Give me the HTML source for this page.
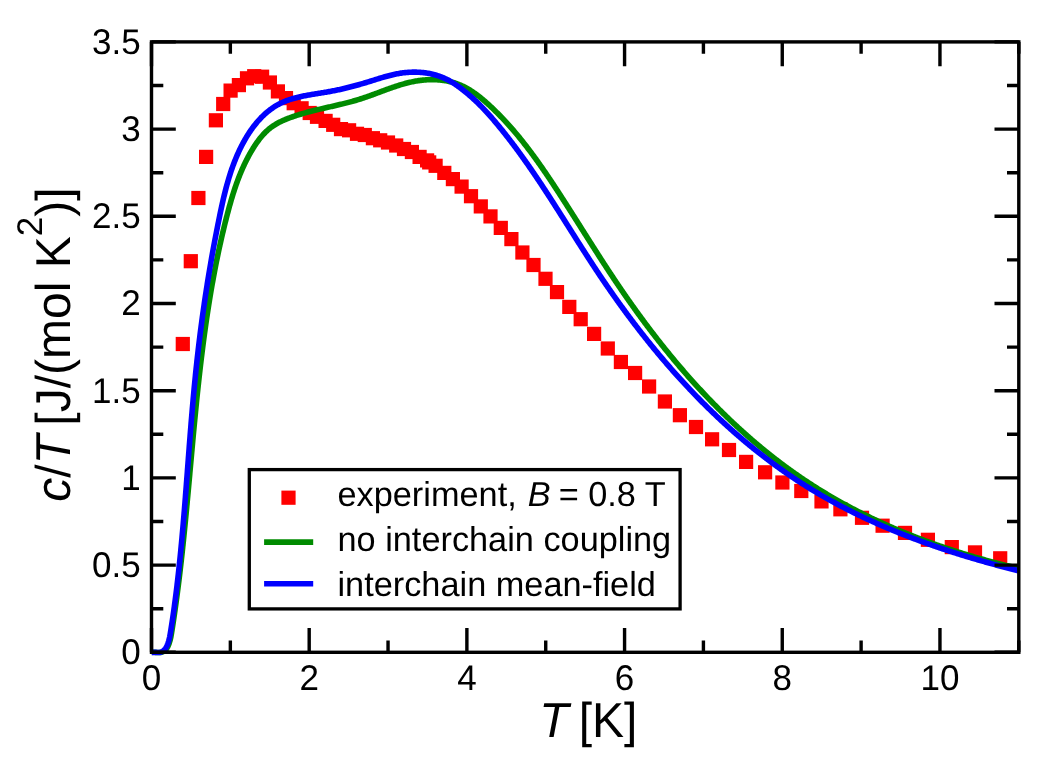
<!DOCTYPE html>
<html><head><meta charset="utf-8"><style>
html,body{margin:0;padding:0;background:#fff;width:1058px;height:768px;overflow:hidden;font-family:"Liberation Sans",sans-serif;}
svg{display:block;will-change:transform;}
</style></head><body>
<svg width="1058" height="768" viewBox="0 0 1058 768">
<rect x="0" y="0" width="1058" height="768" fill="#fff"/>
<defs><clipPath id="c"><rect x="151.5" y="21.9" width="867.3" height="650.4"/></clipPath></defs>
<g fill="#ff0000">
<rect x="175.70" y="336.90" width="14.2" height="14.2"/>
<rect x="183.70" y="254.10" width="14.2" height="14.2"/>
<rect x="191.30" y="190.90" width="14.2" height="14.2"/>
<rect x="199.00" y="149.80" width="14.2" height="14.2"/>
<rect x="208.80" y="113.20" width="14.2" height="14.2"/>
<rect x="216.10" y="96.90" width="14.2" height="14.2"/>
<rect x="223.50" y="83.50" width="14.2" height="14.2"/>
<rect x="231.80" y="78.00" width="14.2" height="14.2"/>
<rect x="239.90" y="71.20" width="14.2" height="14.2"/>
<rect x="247.10" y="69.10" width="14.2" height="14.2"/>
<rect x="255.00" y="69.60" width="14.2" height="14.2"/>
<rect x="262.80" y="75.40" width="14.2" height="14.2"/>
<rect x="270.80" y="84.30" width="14.2" height="14.2"/>
<rect x="278.90" y="91.00" width="14.2" height="14.2"/>
<rect x="286.60" y="96.10" width="14.2" height="14.2"/>
<rect x="294.50" y="101.20" width="14.2" height="14.2"/>
<rect x="302.60" y="105.90" width="14.2" height="14.2"/>
<rect x="309.90" y="109.70" width="14.2" height="14.2"/>
<rect x="318.50" y="113.80" width="14.2" height="14.2"/>
<rect x="326.10" y="117.70" width="14.2" height="14.2"/>
<rect x="333.90" y="122.00" width="14.2" height="14.2"/>
<rect x="342.00" y="123.20" width="14.2" height="14.2"/>
<rect x="349.90" y="126.70" width="14.2" height="14.2"/>
<rect x="357.70" y="127.90" width="14.2" height="14.2"/>
<rect x="365.80" y="131.10" width="14.2" height="14.2"/>
<rect x="373.10" y="133.20" width="14.2" height="14.2"/>
<rect x="380.90" y="135.40" width="14.2" height="14.2"/>
<rect x="389.10" y="138.40" width="14.2" height="14.2"/>
<rect x="396.90" y="141.90" width="14.2" height="14.2"/>
<rect x="404.80" y="144.90" width="14.2" height="14.2"/>
<rect x="412.50" y="149.80" width="14.2" height="14.2"/>
<rect x="420.00" y="153.30" width="14.2" height="14.2"/>
<rect x="422.10" y="155.30" width="14.2" height="14.2"/>
<rect x="428.50" y="158.70" width="14.2" height="14.2"/>
<rect x="437.20" y="165.80" width="14.2" height="14.2"/>
<rect x="445.80" y="172.00" width="14.2" height="14.2"/>
<rect x="454.50" y="179.50" width="14.2" height="14.2"/>
<rect x="463.90" y="189.10" width="14.2" height="14.2"/>
<rect x="473.70" y="199.30" width="14.2" height="14.2"/>
<rect x="483.40" y="209.30" width="14.2" height="14.2"/>
<rect x="493.70" y="220.80" width="14.2" height="14.2"/>
<rect x="504.30" y="232.00" width="14.2" height="14.2"/>
<rect x="515.30" y="245.40" width="14.2" height="14.2"/>
<rect x="526.40" y="257.90" width="14.2" height="14.2"/>
<rect x="538.40" y="271.70" width="14.2" height="14.2"/>
<rect x="549.90" y="285.00" width="14.2" height="14.2"/>
<rect x="562.20" y="299.80" width="14.2" height="14.2"/>
<rect x="573.60" y="312.10" width="14.2" height="14.2"/>
<rect x="587.00" y="326.80" width="14.2" height="14.2"/>
<rect x="600.70" y="341.40" width="14.2" height="14.2"/>
<rect x="613.80" y="354.90" width="14.2" height="14.2"/>
<rect x="628.00" y="365.90" width="14.2" height="14.2"/>
<rect x="642.00" y="379.40" width="14.2" height="14.2"/>
<rect x="657.80" y="394.40" width="14.2" height="14.2"/>
<rect x="672.80" y="408.10" width="14.2" height="14.2"/>
<rect x="688.90" y="419.90" width="14.2" height="14.2"/>
<rect x="705.00" y="432.20" width="14.2" height="14.2"/>
<rect x="721.90" y="442.90" width="14.2" height="14.2"/>
<rect x="739.00" y="454.80" width="14.2" height="14.2"/>
<rect x="758.00" y="465.20" width="14.2" height="14.2"/>
<rect x="775.30" y="475.40" width="14.2" height="14.2"/>
<rect x="794.20" y="483.90" width="14.2" height="14.2"/>
<rect x="814.40" y="494.30" width="14.2" height="14.2"/>
<rect x="833.30" y="502.20" width="14.2" height="14.2"/>
<rect x="854.90" y="510.70" width="14.2" height="14.2"/>
<rect x="875.50" y="518.60" width="14.2" height="14.2"/>
<rect x="897.90" y="525.80" width="14.2" height="14.2"/>
<rect x="920.80" y="532.70" width="14.2" height="14.2"/>
<rect x="944.70" y="540.00" width="14.2" height="14.2"/>
<rect x="967.90" y="545.30" width="14.2" height="14.2"/>
<rect x="993.10" y="551.20" width="14.2" height="14.2"/>
</g>
<g fill="none" stroke-width="5.6" stroke-linejoin="round" clip-path="url(#c)">
<path stroke="#008b00" d="M151.51,652.41 L152.49,652.32 L153.49,652.29 L154.50,652.32 L155.52,652.37 L156.55,652.44 L157.58,652.50 L158.61,652.53 L159.63,652.51 L160.64,652.42 L161.63,652.23 L162.57,651.93 L163.46,651.51 L164.30,651.00 L165.08,650.39 L165.79,649.69 L166.42,648.91 L166.99,648.08 L167.50,647.19 L167.95,646.27 L168.37,645.32 L168.75,644.37 L169.11,643.41 L169.43,642.45 L169.73,641.48 L170.01,640.51 L170.26,639.53 L170.49,638.55 L170.71,637.57 L170.91,636.58 L171.10,635.59 L171.28,634.60 L171.45,633.61 L171.61,632.61 L171.77,631.62 L171.93,630.62 L172.09,629.63 L172.25,628.63 L172.40,627.64 L172.56,626.64 L172.71,625.65 L172.86,624.65 L173.02,623.65 L173.17,622.66 L173.32,621.66 L173.47,620.66 L173.62,619.67 L173.77,618.67 L173.92,617.67 L174.06,616.68 L174.21,615.68 L174.36,614.68 L174.50,613.68 L174.64,612.69 L174.79,611.69 L174.93,610.69 L175.07,609.69 L175.21,608.70 L175.35,607.70 L175.49,606.70 L175.63,605.70 L175.77,604.70 L175.91,603.70 L176.05,602.70 L176.18,601.70 L176.32,600.71 L176.45,599.71 L176.59,598.71 L176.72,597.71 L176.86,596.71 L176.99,595.71 L177.12,594.71 L177.25,593.71 L177.38,592.71 L177.51,591.71 L177.64,590.71 L177.77,589.71 L177.90,588.71 L178.02,587.71 L178.15,586.71 L178.28,585.70 L178.40,584.70 L178.53,583.70 L178.65,582.70 L178.78,581.70 L178.90,580.70 L179.02,579.70 L179.14,578.70 L179.27,577.69 L179.39,576.69 L179.51,575.69 L179.63,574.69 L179.75,573.69 L179.87,572.68 L179.98,571.68 L180.10,570.68 L180.22,569.68 L180.34,568.67 L180.45,567.67 L180.57,566.67 L180.68,565.67 L180.80,564.66 L180.91,563.66 L181.03,562.66 L181.14,561.65 L181.25,560.65 L181.36,559.65 L181.48,558.64 L181.59,557.64 L181.70,556.64 L181.81,555.63 L181.92,554.63 L182.03,553.62 L182.14,552.62 L182.25,551.62 L182.35,550.61 L182.46,549.61 L182.57,548.60 L182.68,547.60 L182.78,546.59 L182.89,545.59 L183.00,544.59 L183.10,543.58 L183.21,542.58 L183.31,541.57 L183.42,540.57 L183.52,539.56 L183.62,538.56 L183.73,537.55 L183.83,536.55 L183.93,535.54 L184.03,534.54 L184.14,533.53 L184.24,532.52 L184.34,531.52 L184.44,530.51 L184.54,529.51 L184.64,528.50 L184.74,527.50 L184.84,526.49 L184.94,525.49 L185.04,524.48 L185.14,523.47 L185.24,522.47 L185.34,521.46 L185.43,520.45 L185.53,519.45 L185.63,518.44 L185.73,517.44 L185.82,516.43 L185.92,515.42 L186.02,514.42 L186.11,513.41 L186.21,512.40 L186.30,511.40 L186.40,510.39 L186.50,509.38 L186.59,508.38 L186.69,507.37 L186.78,506.36 L186.87,505.36 L186.97,504.35 L187.06,503.34 L187.16,502.34 L187.25,501.33 L187.35,500.32 L187.44,499.31 L187.53,498.31 L187.63,497.30 L187.72,496.29 L187.81,495.29 L187.90,494.28 L188.00,493.27 L188.09,492.26 L188.18,491.26 L188.27,490.25 L188.37,489.24 L188.46,488.23 L188.55,487.23 L188.64,486.22 L188.73,485.21 L188.83,484.20 L188.92,483.20 L189.01,482.19 L189.10,481.18 L189.19,480.17 L189.28,479.17 L189.37,478.16 L189.47,477.15 L189.56,476.14 L189.65,475.14 L189.74,474.13 L189.83,473.12 L189.92,472.11 L190.01,471.10 L190.10,470.10 L190.19,469.09 L190.29,468.08 L190.38,467.07 L190.47,466.06 L190.56,465.06 L190.65,464.05 L190.74,463.04 L190.83,462.03 L190.92,461.03 L191.01,460.02 L191.11,459.01 L191.20,458.00 L191.29,456.99 L191.38,455.99 L191.47,454.98 L191.56,453.97 L191.65,452.96 L191.75,451.95 L191.84,450.95 L191.93,449.94 L192.02,448.93 L192.11,447.92 L192.21,446.91 L192.30,445.91 L192.39,444.90 L192.48,443.89 L192.57,442.88 L192.67,441.87 L192.76,440.87 L192.85,439.86 L192.95,438.85 L193.04,437.84 L193.13,436.84 L193.23,435.83 L193.32,434.82 L193.41,433.81 L193.51,432.80 L193.60,431.80 L193.70,430.79 L193.79,429.78 L193.89,428.77 L193.98,427.77 L194.08,426.76 L194.17,425.75 L194.27,424.74 L194.36,423.74 L194.46,422.73 L194.56,421.72 L194.65,420.71 L194.75,419.71 L194.85,418.70 L194.94,417.69 L195.04,416.68 L195.14,415.68 L195.24,414.67 L195.34,413.66 L195.43,412.65 L195.53,411.65 L195.63,410.64 L195.73,409.63 L195.83,408.63 L195.93,407.62 L196.03,406.61 L196.13,405.61 L196.23,404.60 L196.34,403.59 L196.44,402.58 L196.54,401.58 L196.64,400.57 L196.74,399.56 L196.85,398.56 L196.95,397.55 L197.05,396.54 L197.16,395.54 L197.26,394.53 L197.37,393.53 L197.47,392.52 L197.58,391.51 L197.69,390.51 L197.79,389.50 L197.90,388.49 L198.01,387.49 L198.11,386.48 L198.22,385.48 L198.33,384.47 L198.44,383.46 L198.55,382.46 L198.66,381.45 L198.77,380.45 L198.88,379.44 L198.99,378.44 L199.10,377.43 L199.21,376.42 L199.33,375.42 L199.44,374.41 L199.55,373.41 L199.67,372.40 L199.78,371.40 L199.89,370.39 L200.01,369.39 L200.13,368.38 L200.24,367.38 L200.36,366.37 L200.48,365.37 L200.59,364.36 L200.71,363.36 L200.83,362.36 L200.95,361.35 L201.07,360.35 L201.19,359.34 L201.31,358.34 L201.43,357.33 L201.56,356.33 L201.68,355.33 L201.80,354.32 L201.93,353.32 L202.05,352.32 L202.18,351.31 L202.30,350.31 L202.43,349.31 L202.56,348.30 L202.68,347.30 L202.81,346.30 L202.94,345.29 L203.07,344.29 L203.20,343.29 L203.33,342.29 L203.46,341.28 L203.59,340.28 L203.73,339.28 L203.86,338.28 L203.99,337.27 L204.13,336.27 L204.26,335.27 L204.40,334.27 L204.53,333.27 L204.67,332.27 L204.81,331.26 L204.95,330.26 L205.09,329.26 L205.23,328.26 L205.37,327.26 L205.51,326.26 L205.65,325.26 L205.79,324.26 L205.94,323.26 L206.08,322.26 L206.23,321.26 L206.37,320.26 L206.52,319.26 L206.67,318.26 L206.81,317.26 L206.96,316.26 L207.11,315.26 L207.26,314.26 L207.41,313.26 L207.57,312.26 L207.72,311.27 L207.87,310.27 L208.03,309.27 L208.18,308.27 L208.34,307.27 L208.49,306.28 L208.65,305.28 L208.81,304.28 L208.97,303.28 L209.13,302.29 L209.29,301.29 L209.45,300.29 L209.61,299.30 L209.78,298.30 L209.94,297.30 L210.11,296.31 L210.27,295.31 L210.44,294.32 L210.61,293.32 L210.77,292.32 L210.94,291.33 L211.11,290.33 L211.28,289.34 L211.46,288.34 L211.63,287.35 L211.80,286.36 L211.98,285.36 L212.15,284.37 L212.33,283.37 L212.51,282.38 L212.69,281.39 L212.87,280.39 L213.05,279.40 L213.23,278.41 L213.41,277.42 L213.59,276.42 L213.78,275.43 L213.96,274.44 L214.15,273.45 L214.34,272.46 L214.52,271.46 L214.71,270.47 L214.90,269.48 L215.09,268.49 L215.29,267.50 L215.48,266.51 L215.67,265.52 L215.87,264.53 L216.06,263.54 L216.26,262.55 L216.46,261.56 L216.66,260.57 L216.86,259.59 L217.06,258.60 L217.26,257.61 L217.47,256.62 L217.67,255.63 L217.88,254.65 L218.08,253.66 L218.29,252.67 L218.50,251.68 L218.71,250.70 L218.92,249.71 L219.13,248.72 L219.35,247.74 L219.56,246.75 L219.78,245.77 L219.99,244.78 L220.21,243.80 L220.43,242.81 L220.65,241.83 L220.87,240.84 L221.09,239.86 L221.31,238.88 L221.54,237.89 L221.76,236.91 L221.99,235.93 L222.22,234.94 L222.45,233.96 L222.68,232.98 L222.91,232.00 L223.14,231.02 L223.38,230.04 L223.61,229.05 L223.85,228.07 L224.09,227.09 L224.32,226.11 L224.56,225.13 L224.81,224.15 L225.05,223.17 L225.29,222.19 L225.54,221.22 L225.78,220.24 L226.03,219.26 L226.28,218.28 L226.53,217.30 L226.78,216.33 L227.03,215.35 L227.29,214.37 L227.54,213.39 L227.80,212.42 L228.06,211.44 L228.32,210.47 L228.58,209.49 L228.84,208.52 L229.11,207.55 L229.37,206.57 L229.64,205.60 L229.91,204.63 L230.19,203.66 L230.46,202.69 L230.74,201.72 L231.02,200.75 L231.31,199.78 L231.59,198.81 L231.88,197.85 L232.17,196.88 L232.46,195.92 L232.76,194.95 L233.06,193.99 L233.36,193.03 L233.67,192.07 L233.98,191.11 L234.29,190.15 L234.60,189.19 L234.92,188.24 L235.25,187.28 L235.57,186.33 L235.90,185.38 L236.23,184.43 L236.57,183.48 L236.91,182.53 L237.25,181.58 L237.60,180.64 L237.95,179.69 L238.31,178.75 L238.67,177.81 L239.04,176.87 L239.40,175.93 L239.78,175.00 L240.16,174.06 L240.54,173.13 L240.93,172.20 L241.32,171.27 L241.71,170.34 L242.11,169.42 L242.52,168.49 L242.93,167.57 L243.35,166.65 L243.77,165.73 L244.20,164.82 L244.63,163.90 L245.07,162.99 L245.51,162.08 L245.96,161.18 L246.41,160.27 L246.87,159.37 L247.33,158.47 L247.81,157.57 L248.28,156.67 L248.76,155.77 L249.25,154.88 L249.75,153.99 L250.25,153.11 L250.76,152.22 L251.27,151.34 L251.79,150.46 L252.32,149.58 L252.85,148.71 L253.39,147.83 L253.94,146.97 L254.49,146.10 L255.05,145.24 L255.62,144.39 L256.20,143.54 L256.78,142.70 L257.37,141.86 L257.97,141.04 L258.58,140.22 L259.20,139.40 L259.83,138.60 L260.46,137.80 L261.11,137.02 L261.76,136.24 L262.42,135.47 L263.09,134.72 L263.78,133.98 L264.47,133.25 L265.17,132.53 L265.89,131.82 L266.61,131.13 L267.34,130.45 L268.09,129.78 L268.85,129.13 L269.61,128.50 L270.39,127.88 L271.19,127.28 L271.99,126.69 L272.80,126.12 L273.63,125.57 L274.47,125.03 L275.31,124.51 L276.17,124.00 L277.04,123.51 L277.91,123.02 L278.79,122.56 L279.68,122.10 L280.58,121.66 L281.49,121.23 L282.40,120.81 L283.32,120.40 L284.24,119.99 L285.16,119.60 L286.10,119.22 L287.03,118.84 L287.97,118.48 L288.91,118.12 L289.85,117.76 L290.80,117.41 L291.75,117.07 L292.70,116.74 L293.65,116.41 L294.60,116.08 L295.56,115.76 L296.52,115.45 L297.47,115.14 L298.44,114.84 L299.40,114.54 L300.36,114.25 L301.33,113.96 L302.30,113.67 L303.26,113.39 L304.23,113.12 L305.21,112.85 L306.18,112.58 L307.15,112.31 L308.13,112.05 L309.10,111.79 L310.08,111.54 L311.06,111.28 L312.04,111.04 L313.02,110.79 L314.00,110.55 L314.99,110.30 L315.97,110.06 L316.95,109.83 L317.94,109.59 L318.92,109.36 L319.91,109.13 L320.89,108.89 L321.88,108.66 L322.87,108.44 L323.85,108.21 L324.84,107.98 L325.83,107.76 L326.82,107.53 L327.81,107.31 L328.80,107.08 L329.78,106.86 L330.77,106.63 L331.76,106.41 L332.75,106.18 L333.74,105.95 L334.73,105.73 L335.71,105.50 L336.70,105.27 L337.69,105.04 L338.67,104.81 L339.66,104.57 L340.65,104.34 L341.63,104.10 L342.61,103.86 L343.60,103.62 L344.58,103.38 L345.56,103.13 L346.54,102.88 L347.52,102.63 L348.50,102.38 L349.48,102.12 L350.46,101.86 L351.44,101.59 L352.41,101.33 L353.38,101.06 L354.36,100.78 L355.33,100.50 L356.30,100.22 L357.27,99.93 L358.23,99.64 L359.20,99.34 L360.16,99.04 L361.12,98.73 L362.08,98.42 L363.04,98.10 L364.00,97.78 L364.96,97.46 L365.91,97.13 L366.87,96.80 L367.82,96.47 L368.77,96.13 L369.72,95.79 L370.67,95.45 L371.62,95.10 L372.57,94.75 L373.52,94.41 L374.46,94.06 L375.41,93.70 L376.36,93.35 L377.30,93.00 L378.25,92.65 L379.20,92.29 L380.14,91.94 L381.09,91.59 L382.03,91.23 L382.98,90.88 L383.92,90.53 L384.87,90.18 L385.82,89.83 L386.76,89.48 L387.71,89.14 L388.66,88.80 L389.61,88.46 L390.56,88.12 L391.51,87.78 L392.46,87.45 L393.41,87.13 L394.37,86.80 L395.32,86.48 L396.28,86.17 L397.24,85.86 L398.19,85.55 L399.15,85.25 L400.12,84.95 L401.08,84.66 L402.04,84.38 L403.01,84.10 L403.98,83.82 L404.95,83.56 L405.92,83.30 L406.90,83.04 L407.87,82.80 L408.85,82.56 L409.83,82.33 L410.82,82.11 L411.80,81.89 L412.79,81.69 L413.78,81.49 L414.78,81.30 L415.77,81.12 L416.77,80.95 L417.77,80.79 L418.78,80.64 L419.79,80.50 L420.80,80.37 L421.81,80.25 L422.83,80.14 L423.84,80.04 L424.86,79.95 L425.88,79.88 L426.90,79.81 L427.92,79.75 L428.94,79.71 L429.97,79.68 L430.99,79.66 L432.01,79.65 L433.03,79.65 L434.05,79.67 L435.07,79.70 L436.09,79.73 L437.11,79.79 L438.13,79.85 L439.14,79.93 L440.15,80.02 L441.16,80.12 L442.17,80.24 L443.17,80.37 L444.17,80.51 L445.17,80.67 L446.17,80.84 L447.16,81.02 L448.14,81.22 L449.12,81.43 L450.10,81.66 L451.08,81.90 L452.04,82.16 L453.01,82.43 L453.96,82.72 L454.91,83.02 L455.86,83.33 L456.80,83.66 L457.73,84.01 L458.66,84.37 L459.58,84.74 L460.50,85.13 L461.40,85.54 L462.31,85.95 L463.21,86.38 L464.10,86.82 L464.98,87.28 L465.86,87.75 L466.74,88.23 L467.61,88.72 L468.47,89.22 L469.33,89.74 L470.19,90.26 L471.04,90.79 L471.88,91.34 L472.72,91.90 L473.56,92.46 L474.39,93.03 L475.21,93.62 L476.03,94.21 L476.85,94.81 L477.66,95.42 L478.47,96.03 L479.27,96.66 L480.07,97.29 L480.86,97.92 L481.65,98.57 L482.44,99.22 L483.22,99.87 L484.00,100.53 L484.77,101.20 L485.54,101.87 L486.31,102.55 L487.07,103.23 L487.83,103.91 L488.59,104.60 L489.34,105.29 L490.09,105.99 L490.84,106.69 L491.58,107.39 L492.32,108.09 L493.06,108.80 L493.80,109.50 L494.53,110.21 L495.26,110.93 L495.98,111.64 L496.70,112.36 L497.42,113.08 L498.14,113.80 L498.85,114.52 L499.57,115.25 L500.27,115.97 L500.98,116.70 L501.68,117.43 L502.38,118.17 L503.08,118.90 L503.77,119.64 L504.47,120.38 L505.16,121.12 L505.84,121.86 L506.53,122.61 L507.21,123.36 L507.89,124.11 L508.56,124.86 L509.24,125.61 L509.91,126.37 L510.58,127.12 L511.24,127.88 L511.91,128.64 L512.57,129.40 L513.23,130.17 L513.89,130.93 L514.54,131.70 L515.19,132.47 L515.84,133.24 L516.49,134.01 L517.14,134.79 L517.78,135.56 L518.42,136.34 L519.06,137.12 L519.70,137.90 L520.34,138.68 L520.97,139.46 L521.60,140.25 L522.23,141.04 L522.86,141.82 L523.48,142.61 L524.10,143.40 L524.72,144.20 L525.34,144.99 L525.96,145.79 L526.58,146.58 L527.19,147.38 L527.80,148.18 L528.41,148.98 L529.02,149.78 L529.63,150.59 L530.23,151.39 L530.83,152.20 L531.44,153.00 L532.03,153.81 L532.63,154.62 L533.23,155.43 L533.82,156.24 L534.42,157.06 L535.01,157.87 L535.60,158.69 L536.19,159.50 L536.78,160.32 L537.36,161.14 L537.95,161.96 L538.53,162.78 L539.11,163.60 L539.69,164.42 L540.27,165.25 L540.85,166.07 L541.43,166.90 L542.00,167.72 L542.57,168.55 L543.15,169.38 L543.72,170.21 L544.29,171.04 L544.86,171.87 L545.43,172.70 L545.99,173.53 L546.56,174.36 L547.13,175.20 L547.69,176.03 L548.25,176.87 L548.81,177.70 L549.38,178.54 L549.94,179.37 L550.50,180.21 L551.05,181.05 L551.61,181.89 L552.17,182.73 L552.72,183.57 L553.28,184.41 L553.83,185.25 L554.39,186.09 L554.94,186.93 L555.49,187.78 L556.05,188.62 L556.60,189.46 L557.15,190.31 L557.70,191.15 L558.25,192.00 L558.80,192.84 L559.34,193.69 L559.89,194.53 L560.44,195.38 L560.99,196.22 L561.53,197.07 L562.08,197.92 L562.62,198.76 L563.17,199.61 L563.71,200.46 L564.26,201.31 L564.80,202.16 L565.35,203.00 L565.89,203.85 L566.43,204.70 L566.98,205.55 L567.52,206.40 L568.06,207.25 L568.60,208.10 L569.15,208.95 L569.69,209.80 L570.23,210.65 L570.77,211.50 L571.31,212.35 L571.85,213.20 L572.39,214.05 L572.93,214.90 L573.47,215.75 L574.01,216.60 L574.55,217.45 L575.09,218.31 L575.63,219.16 L576.17,220.01 L576.71,220.86 L577.25,221.71 L577.79,222.56 L578.32,223.41 L578.86,224.27 L579.40,225.12 L579.94,225.97 L580.48,226.82 L581.02,227.67 L581.56,228.53 L582.10,229.38 L582.64,230.23 L583.17,231.08 L583.71,231.93 L584.25,232.79 L584.79,233.64 L585.33,234.49 L585.87,235.34 L586.41,236.20 L586.95,237.05 L587.49,237.90 L588.03,238.75 L588.57,239.60 L589.11,240.45 L589.65,241.31 L590.19,242.16 L590.73,243.01 L591.27,243.86 L591.81,244.71 L592.35,245.56 L592.90,246.41 L593.44,247.26 L593.98,248.11 L594.52,248.96 L595.06,249.82 L595.61,250.67 L596.15,251.52 L596.69,252.37 L597.24,253.22 L597.78,254.06 L598.33,254.91 L598.87,255.76 L599.42,256.61 L599.96,257.46 L600.51,258.31 L601.06,259.16 L601.60,260.01 L602.15,260.85 L602.70,261.70 L603.25,262.55 L603.80,263.40 L604.35,264.24 L604.90,265.09 L605.45,265.94 L606.00,266.78 L606.55,267.63 L607.10,268.47 L607.66,269.32 L608.21,270.16 L608.76,271.01 L609.32,271.85 L609.87,272.69 L610.43,273.54 L610.99,274.38 L611.54,275.22 L612.10,276.07 L612.66,276.91 L613.22,277.75 L613.78,278.59 L614.34,279.43 L614.90,280.27 L615.46,281.11 L616.02,281.95 L616.59,282.79 L617.15,283.63 L617.72,284.47 L618.28,285.31 L618.85,286.14 L619.42,286.98 L619.98,287.82 L620.55,288.65 L621.12,289.49 L621.69,290.32 L622.27,291.16 L622.84,291.99 L623.41,292.83 L623.99,293.66 L624.56,294.49 L625.14,295.32 L625.71,296.15 L626.29,296.99 L626.87,297.82 L627.45,298.65 L628.03,299.48 L628.61,300.30 L629.19,301.13 L629.77,301.96 L630.36,302.79 L630.94,303.62 L631.53,304.44 L632.11,305.27 L632.70,306.09 L633.29,306.92 L633.87,307.74 L634.46,308.57 L635.05,309.39 L635.65,310.21 L636.24,311.03 L636.83,311.85 L637.42,312.67 L638.02,313.49 L638.61,314.31 L639.21,315.13 L639.81,315.95 L640.41,316.77 L641.00,317.59 L641.60,318.40 L642.21,319.22 L642.81,320.03 L643.41,320.85 L644.01,321.66 L644.62,322.47 L645.22,323.29 L645.83,324.10 L646.44,324.91 L647.04,325.72 L647.65,326.53 L648.26,327.34 L648.87,328.15 L649.48,328.96 L650.10,329.76 L650.71,330.57 L651.32,331.38 L651.94,332.18 L652.55,332.98 L653.17,333.79 L653.79,334.59 L654.41,335.39 L655.03,336.20 L655.65,337.00 L656.27,337.80 L656.89,338.60 L657.51,339.39 L658.14,340.19 L658.76,340.99 L659.39,341.79 L660.02,342.58 L660.64,343.38 L661.27,344.17 L661.90,344.96 L662.53,345.76 L663.17,346.55 L663.80,347.34 L664.43,348.13 L665.07,348.92 L665.70,349.71 L666.34,350.50 L666.97,351.28 L667.61,352.07 L668.25,352.86 L668.89,353.64 L669.53,354.42 L670.17,355.21 L670.82,355.99 L671.46,356.77 L672.10,357.55 L672.75,358.33 L673.40,359.11 L674.04,359.89 L674.69,360.67 L675.34,361.44 L675.99,362.22 L676.64,362.99 L677.30,363.77 L677.95,364.54 L678.60,365.31 L679.26,366.08 L679.91,366.85 L680.57,367.62 L681.23,368.39 L681.89,369.16 L682.55,369.93 L683.21,370.69 L683.87,371.46 L684.53,372.22 L685.20,372.98 L685.86,373.75 L686.53,374.51 L687.19,375.27 L687.86,376.03 L688.53,376.79 L689.20,377.54 L689.87,378.30 L690.54,379.05 L691.22,379.81 L691.89,380.56 L692.56,381.32 L693.24,382.07 L693.92,382.82 L694.59,383.57 L695.27,384.32 L695.95,385.06 L696.63,385.81 L697.31,386.56 L698.00,387.30 L698.68,388.05 L699.36,388.79 L700.05,389.53 L700.74,390.27 L701.42,391.01 L702.11,391.75 L702.80,392.49 L703.49,393.22 L704.18,393.96 L704.88,394.69 L705.57,395.43 L706.27,396.16 L706.96,396.89 L707.66,397.62 L708.36,398.35 L709.05,399.08 L709.75,399.81 L710.45,400.53 L711.16,401.26 L711.86,401.98 L712.56,402.71 L713.27,403.43 L713.97,404.15 L714.68,404.87 L715.39,405.59 L716.10,406.30 L716.81,407.02 L717.52,407.74 L718.23,408.45 L718.94,409.16 L719.66,409.87 L720.37,410.58 L721.09,411.29 L721.81,412.00 L722.52,412.71 L723.24,413.42 L723.96,414.12 L724.68,414.82 L725.41,415.53 L726.13,416.23 L726.86,416.93 L727.58,417.63 L728.31,418.32 L729.04,419.02 L729.76,419.72 L730.49,420.41 L731.22,421.10 L731.96,421.80 L732.69,422.49 L733.42,423.18 L734.16,423.86 L734.89,424.55 L735.63,425.24 L736.37,425.92 L737.11,426.61 L737.85,427.29 L738.59,427.97 L739.33,428.65 L740.08,429.33 L740.82,430.00 L741.57,430.68 L742.32,431.35 L743.06,432.03 L743.81,432.70 L744.56,433.37 L745.31,434.04 L746.07,434.71 L746.82,435.37 L747.57,436.04 L748.33,436.70 L749.09,437.37 L749.85,438.03 L750.60,438.69 L751.36,439.35 L752.13,440.01 L752.89,440.66 L753.65,441.32 L754.41,441.97 L755.18,442.62 L755.95,443.27 L756.71,443.92 L757.48,444.57 L758.25,445.22 L759.02,445.86 L759.80,446.51 L760.57,447.15 L761.34,447.79 L762.12,448.43 L762.90,449.07 L763.67,449.71 L764.45,450.35 L765.23,450.98 L766.01,451.61 L766.80,452.24 L767.58,452.88 L768.36,453.50 L769.15,454.13 L769.94,454.76 L770.72,455.38 L771.51,456.01 L772.30,456.63 L773.09,457.25 L773.89,457.87 L774.68,458.48 L775.47,459.10 L776.27,459.72 L777.07,460.33 L777.87,460.94 L778.66,461.55 L779.46,462.16 L780.27,462.77 L781.07,463.37 L781.87,463.98 L782.68,464.58 L783.48,465.18 L784.29,465.78 L785.10,466.38 L785.91,466.98 L786.72,467.57 L787.53,468.17 L788.34,468.76 L789.16,469.35 L789.97,469.94 L790.79,470.53 L791.61,471.11 L792.43,471.70 L793.25,472.28 L794.07,472.86 L794.89,473.44 L795.71,474.02 L796.54,474.60 L797.36,475.17 L798.19,475.75 L799.02,476.32 L799.85,476.89 L800.68,477.46 L801.51,478.03 L802.34,478.59 L803.18,479.16 L804.01,479.72 L804.85,480.28 L805.69,480.84 L806.53,481.40 L807.37,481.95 L808.21,482.51 L809.05,483.06 L809.89,483.61 L810.74,484.16 L811.58,484.71 L812.43,485.26 L813.28,485.80 L814.13,486.34 L814.98,486.89 L815.83,487.42 L816.68,487.96 L817.54,488.50 L818.39,489.03 L819.25,489.57 L820.11,490.10 L820.97,490.63 L821.83,491.16 L822.69,491.68 L823.55,492.21 L824.41,492.73 L825.28,493.25 L826.15,493.77 L827.01,494.29 L827.88,494.81 L828.75,495.32 L829.62,495.84 L830.49,496.35 L831.36,496.86 L832.24,497.37 L833.11,497.87 L833.99,498.38 L834.87,498.88 L835.74,499.39 L836.62,499.89 L837.50,500.38 L838.38,500.88 L839.27,501.38 L840.15,501.87 L841.03,502.36 L841.92,502.85 L842.81,503.34 L843.69,503.83 L844.58,504.32 L845.47,504.80 L846.36,505.28 L847.25,505.77 L848.14,506.24 L849.04,506.72 L849.93,507.20 L850.83,507.67 L851.72,508.15 L852.62,508.62 L853.52,509.09 L854.42,509.56 L855.32,510.02 L856.22,510.49 L857.12,510.95 L858.02,511.41 L858.92,511.88 L859.83,512.33 L860.73,512.79 L861.64,513.25 L862.55,513.70 L863.45,514.15 L864.36,514.60 L865.27,515.05 L866.18,515.50 L867.09,515.95 L868.00,516.39 L868.92,516.84 L869.83,517.28 L870.75,517.72 L871.66,518.16 L872.58,518.59 L873.49,519.03 L874.41,519.46 L875.33,519.90 L876.25,520.33 L877.17,520.76 L878.09,521.18 L879.01,521.61 L879.93,522.04 L880.86,522.46 L881.78,522.88 L882.70,523.30 L883.63,523.72 L884.56,524.14 L885.48,524.55 L886.41,524.97 L887.34,525.38 L888.27,525.79 L889.20,526.20 L890.13,526.61 L891.06,527.01 L891.99,527.42 L892.92,527.82 L893.85,528.22 L894.79,528.63 L895.72,529.02 L896.65,529.42 L897.59,529.82 L898.53,530.21 L899.46,530.61 L900.40,531.00 L901.34,531.39 L902.28,531.78 L903.21,532.16 L904.15,532.55 L905.09,532.93 L906.03,533.31 L906.98,533.70 L907.92,534.08 L908.86,534.45 L909.80,534.83 L910.75,535.21 L911.69,535.58 L912.63,535.95 L913.58,536.32 L914.53,536.69 L915.47,537.06 L916.42,537.43 L917.37,537.79 L918.31,538.15 L919.26,538.52 L920.21,538.88 L921.16,539.24 L922.11,539.59 L923.06,539.95 L924.01,540.30 L924.96,540.66 L925.91,541.01 L926.86,541.36 L927.81,541.71 L928.77,542.06 L929.72,542.40 L930.67,542.75 L931.63,543.09 L932.58,543.43 L933.53,543.77 L934.49,544.11 L935.44,544.45 L936.40,544.79 L937.36,545.12 L938.31,545.45 L939.27,545.79 L940.23,546.12 L941.18,546.45 L942.14,546.77 L943.10,547.10 L944.06,547.42 L945.02,547.75 L945.98,548.07 L946.93,548.39 L947.89,548.71 L948.85,549.03 L949.81,549.34 L950.77,549.66 L951.73,549.97 L952.70,550.29 L953.66,550.60 L954.62,550.91 L955.58,551.21 L956.54,551.52 L957.50,551.83 L958.47,552.13 L959.43,552.43 L960.39,552.73 L961.35,553.03 L962.32,553.33 L963.28,553.63 L964.24,553.92 L965.21,554.22 L966.17,554.51 L967.14,554.80 L968.10,555.09 L969.06,555.38 L970.03,555.67 L970.99,555.96 L971.96,556.24 L972.92,556.52 L973.89,556.81 L974.85,557.09 L975.82,557.37 L976.78,557.64 L977.75,557.92 L978.72,558.20 L979.68,558.47 L980.65,558.74 L981.61,559.01 L982.58,559.28 L983.54,559.55 L984.51,559.82 L985.48,560.09 L986.44,560.35 L987.41,560.61 L988.37,560.88 L989.34,561.14 L990.31,561.40 L991.27,561.65 L992.24,561.91 L993.20,562.17 L994.17,562.42 L995.14,562.67 L996.10,562.93 L997.07,563.18 L998.03,563.42 L999.00,563.67 L999.97,563.92 L1000.93,564.16 L1001.90,564.41 L1002.86,564.65 L1003.83,564.89 L1004.79,565.13 L1005.76,565.37 L1006.73,565.61 L1007.69,565.84 L1008.66,566.08 L1009.62,566.31 L1010.59,566.54 L1011.55,566.77 L1012.51,567.00 L1013.48,567.23 L1014.44,567.46 L1015.41,567.68 L1016.37,567.91 L1017.34,568.13 L1018.30,568.35"/>
<path stroke="#0000ff" d="M151.50,652.40 L152.53,652.37 L153.55,652.37 L154.56,652.37 L155.58,652.39 L156.60,652.41 L157.63,652.43 L158.68,652.44 L159.73,652.39 L160.73,652.21 L161.68,651.87 L162.56,651.41 L163.38,650.83 L164.14,650.15 L164.82,649.39 L165.43,648.57 L165.98,647.70 L166.48,646.80 L166.93,645.86 L167.34,644.91 L167.72,643.95 L168.07,642.99 L168.39,642.01 L168.69,641.03 L168.96,640.05 L169.21,639.06 L169.44,638.07 L169.66,637.07 L169.85,636.07 L170.04,635.06 L170.22,634.06 L170.39,633.05 L170.55,632.04 L170.72,631.03 L170.88,630.02 L171.04,629.01 L171.20,628.00 L171.35,626.99 L171.51,625.98 L171.67,624.97 L171.82,623.96 L171.97,622.95 L172.13,621.94 L172.28,620.93 L172.43,619.92 L172.58,618.91 L172.73,617.89 L172.88,616.88 L173.02,615.87 L173.17,614.86 L173.31,613.85 L173.46,612.84 L173.60,611.82 L173.74,610.81 L173.88,609.80 L174.02,608.79 L174.16,607.77 L174.30,606.76 L174.44,605.75 L174.58,604.74 L174.71,603.72 L174.85,602.71 L174.98,601.70 L175.12,600.68 L175.25,599.67 L175.38,598.66 L175.51,597.64 L175.64,596.63 L175.77,595.61 L175.90,594.60 L176.03,593.59 L176.15,592.57 L176.28,591.56 L176.40,590.54 L176.53,589.53 L176.65,588.51 L176.78,587.50 L176.90,586.48 L177.02,585.47 L177.14,584.45 L177.26,583.44 L177.38,582.42 L177.50,581.41 L177.62,580.39 L177.73,579.38 L177.85,578.36 L177.96,577.34 L178.08,576.33 L178.19,575.31 L178.31,574.30 L178.42,573.28 L178.53,572.26 L178.64,571.25 L178.75,570.23 L178.86,569.21 L178.97,568.20 L179.08,567.18 L179.19,566.16 L179.30,565.15 L179.41,564.13 L179.51,563.11 L179.62,562.10 L179.72,561.08 L179.83,560.06 L179.93,559.04 L180.04,558.03 L180.14,557.01 L180.24,555.99 L180.34,554.97 L180.44,553.96 L180.54,552.94 L180.64,551.92 L180.74,550.90 L180.84,549.88 L180.94,548.87 L181.04,547.85 L181.14,546.83 L181.23,545.81 L181.33,544.79 L181.43,543.77 L181.52,542.76 L181.62,541.74 L181.71,540.72 L181.81,539.70 L181.90,538.68 L181.99,537.66 L182.09,536.64 L182.18,535.62 L182.27,534.60 L182.36,533.59 L182.45,532.57 L182.54,531.55 L182.63,530.53 L182.72,529.51 L182.81,528.49 L182.90,527.47 L182.99,526.45 L183.08,525.43 L183.17,524.41 L183.25,523.39 L183.34,522.37 L183.43,521.35 L183.51,520.33 L183.60,519.31 L183.69,518.29 L183.77,517.27 L183.86,516.25 L183.94,515.23 L184.03,514.21 L184.11,513.19 L184.19,512.17 L184.28,511.15 L184.36,510.13 L184.44,509.11 L184.53,508.09 L184.61,507.07 L184.69,506.05 L184.77,505.03 L184.86,504.01 L184.94,502.99 L185.02,501.96 L185.10,500.94 L185.18,499.92 L185.26,498.90 L185.34,497.88 L185.42,496.86 L185.50,495.84 L185.58,494.82 L185.66,493.80 L185.74,492.78 L185.82,491.76 L185.90,490.74 L185.98,489.71 L186.06,488.69 L186.14,487.67 L186.22,486.65 L186.29,485.63 L186.37,484.61 L186.45,483.59 L186.53,482.57 L186.61,481.55 L186.69,480.52 L186.76,479.50 L186.84,478.48 L186.92,477.46 L187.00,476.44 L187.08,475.42 L187.15,474.40 L187.23,473.38 L187.31,472.35 L187.39,471.33 L187.46,470.31 L187.54,469.29 L187.62,468.27 L187.70,467.25 L187.77,466.23 L187.85,465.20 L187.93,464.18 L188.01,463.16 L188.08,462.14 L188.16,461.12 L188.24,460.10 L188.32,459.08 L188.39,458.05 L188.47,457.03 L188.55,456.01 L188.63,454.99 L188.70,453.97 L188.78,452.95 L188.86,451.93 L188.94,450.90 L189.02,449.88 L189.10,448.86 L189.17,447.84 L189.25,446.82 L189.33,445.80 L189.41,444.78 L189.49,443.76 L189.57,442.73 L189.65,441.71 L189.73,440.69 L189.81,439.67 L189.89,438.65 L189.97,437.63 L190.05,436.61 L190.13,435.59 L190.21,434.56 L190.29,433.54 L190.37,432.52 L190.45,431.50 L190.53,430.48 L190.61,429.46 L190.70,428.44 L190.78,427.42 L190.86,426.40 L190.94,425.37 L191.03,424.35 L191.11,423.33 L191.19,422.31 L191.28,421.29 L191.36,420.27 L191.44,419.25 L191.53,418.23 L191.61,417.21 L191.70,416.19 L191.78,415.17 L191.87,414.15 L191.96,413.12 L192.04,412.10 L192.13,411.08 L192.22,410.06 L192.30,409.04 L192.39,408.02 L192.48,407.00 L192.57,405.98 L192.66,404.96 L192.75,403.94 L192.84,402.92 L192.93,401.90 L193.02,400.88 L193.11,399.86 L193.20,398.84 L193.29,397.82 L193.39,396.80 L193.48,395.78 L193.57,394.76 L193.67,393.74 L193.76,392.72 L193.85,391.70 L193.95,390.68 L194.04,389.66 L194.14,388.64 L194.24,387.62 L194.33,386.60 L194.43,385.58 L194.53,384.57 L194.63,383.55 L194.73,382.53 L194.83,381.51 L194.93,380.49 L195.03,379.47 L195.13,378.45 L195.23,377.43 L195.33,376.41 L195.44,375.39 L195.54,374.38 L195.64,373.36 L195.75,372.34 L195.85,371.32 L195.96,370.30 L196.07,369.28 L196.17,368.27 L196.28,367.25 L196.39,366.23 L196.50,365.21 L196.61,364.19 L196.72,363.18 L196.83,362.16 L196.94,361.14 L197.05,360.12 L197.17,359.10 L197.28,358.09 L197.39,357.07 L197.51,356.05 L197.62,355.04 L197.74,354.02 L197.85,353.00 L197.97,351.98 L198.09,350.97 L198.21,349.95 L198.33,348.93 L198.45,347.92 L198.57,346.90 L198.69,345.88 L198.81,344.87 L198.93,343.85 L199.05,342.83 L199.18,341.82 L199.30,340.80 L199.42,339.79 L199.55,338.77 L199.68,337.75 L199.80,336.74 L199.93,335.72 L200.06,334.71 L200.18,333.69 L200.31,332.68 L200.44,331.66 L200.57,330.65 L200.70,329.63 L200.84,328.62 L200.97,327.60 L201.10,326.59 L201.23,325.57 L201.37,324.56 L201.50,323.54 L201.64,322.53 L201.77,321.51 L201.91,320.50 L202.05,319.49 L202.19,318.47 L202.32,317.46 L202.46,316.44 L202.60,315.43 L202.74,314.42 L202.88,313.40 L203.03,312.39 L203.17,311.38 L203.31,310.36 L203.45,309.35 L203.60,308.34 L203.74,307.32 L203.89,306.31 L204.04,305.30 L204.18,304.29 L204.33,303.27 L204.48,302.26 L204.63,301.25 L204.78,300.24 L204.93,299.22 L205.08,298.21 L205.23,297.20 L205.38,296.19 L205.53,295.18 L205.69,294.17 L205.84,293.16 L206.00,292.14 L206.15,291.13 L206.31,290.12 L206.46,289.11 L206.62,288.10 L206.78,287.09 L206.94,286.08 L207.10,285.07 L207.26,284.06 L207.42,283.05 L207.58,282.04 L207.74,281.03 L207.90,280.02 L208.07,279.01 L208.23,278.00 L208.40,276.99 L208.56,275.98 L208.73,274.97 L208.89,273.96 L209.06,272.95 L209.23,271.94 L209.40,270.94 L209.57,269.93 L209.74,268.92 L209.91,267.91 L210.08,266.90 L210.25,265.89 L210.42,264.89 L210.60,263.88 L210.77,262.87 L210.95,261.86 L211.12,260.86 L211.30,259.85 L211.48,258.84 L211.65,257.84 L211.83,256.83 L212.01,255.82 L212.19,254.82 L212.37,253.81 L212.55,252.80 L212.73,251.80 L212.91,250.79 L213.10,249.78 L213.28,248.78 L213.46,247.77 L213.65,246.77 L213.84,245.76 L214.02,244.76 L214.21,243.75 L214.40,242.75 L214.59,241.74 L214.77,240.74 L214.96,239.73 L215.15,238.73 L215.35,237.73 L215.54,236.72 L215.73,235.72 L215.92,234.71 L216.12,233.71 L216.31,232.71 L216.51,231.70 L216.70,230.70 L216.90,229.70 L217.10,228.70 L217.30,227.69 L217.49,226.69 L217.69,225.69 L217.89,224.69 L218.10,223.68 L218.30,222.68 L218.50,221.68 L218.70,220.68 L218.91,219.68 L219.11,218.68 L219.32,217.68 L219.52,216.67 L219.73,215.67 L219.94,214.67 L220.14,213.67 L220.35,212.67 L220.56,211.67 L220.77,210.67 L220.99,209.67 L221.20,208.67 L221.42,207.68 L221.63,206.68 L221.85,205.68 L222.07,204.68 L222.29,203.69 L222.51,202.69 L222.74,201.69 L222.97,200.70 L223.19,199.70 L223.42,198.71 L223.66,197.71 L223.89,196.72 L224.13,195.73 L224.37,194.74 L224.61,193.75 L224.86,192.76 L225.11,191.77 L225.36,190.78 L225.61,189.79 L225.87,188.80 L226.13,187.81 L226.39,186.83 L226.65,185.84 L226.92,184.86 L227.19,183.88 L227.47,182.90 L227.75,181.91 L228.03,180.93 L228.32,179.95 L228.61,178.98 L228.90,178.00 L229.20,177.02 L229.50,176.05 L229.80,175.08 L230.11,174.10 L230.43,173.13 L230.74,172.16 L231.07,171.19 L231.39,170.23 L231.72,169.26 L232.06,168.30 L232.40,167.33 L232.75,166.37 L233.10,165.41 L233.45,164.45 L233.81,163.49 L234.18,162.53 L234.55,161.58 L234.92,160.63 L235.30,159.67 L235.69,158.72 L236.08,157.78 L236.48,156.83 L236.88,155.88 L237.29,154.94 L237.71,154.00 L238.13,153.06 L238.56,152.12 L238.99,151.18 L239.43,150.24 L239.87,149.31 L240.32,148.38 L240.78,147.45 L241.25,146.52 L241.72,145.60 L242.19,144.68 L242.68,143.76 L243.17,142.84 L243.66,141.93 L244.17,141.02 L244.68,140.12 L245.19,139.21 L245.72,138.32 L246.25,137.43 L246.78,136.54 L247.33,135.65 L247.87,134.77 L248.43,133.90 L248.99,133.03 L249.56,132.17 L250.14,131.31 L250.73,130.46 L251.32,129.62 L251.91,128.78 L252.52,127.95 L253.13,127.12 L253.75,126.30 L254.38,125.49 L255.01,124.69 L255.65,123.89 L256.30,123.10 L256.95,122.32 L257.61,121.55 L258.28,120.78 L258.96,120.03 L259.64,119.28 L260.33,118.54 L261.03,117.81 L261.74,117.09 L262.45,116.38 L263.17,115.68 L263.90,114.99 L264.64,114.30 L265.38,113.63 L266.13,112.97 L266.89,112.32 L267.66,111.68 L268.43,111.05 L269.21,110.44 L270.00,109.83 L270.80,109.24 L271.61,108.66 L272.42,108.09 L273.24,107.53 L274.07,106.98 L274.91,106.45 L275.75,105.93 L276.61,105.42 L277.47,104.93 L278.34,104.45 L279.21,103.98 L280.10,103.53 L280.99,103.09 L281.90,102.66 L282.80,102.25 L283.72,101.85 L284.65,101.47 L285.58,101.09 L286.51,100.73 L287.46,100.38 L288.41,100.04 L289.37,99.71 L290.33,99.39 L291.30,99.09 L292.27,98.79 L293.25,98.50 L294.24,98.22 L295.23,97.95 L296.22,97.69 L297.22,97.43 L298.22,97.19 L299.23,96.95 L300.24,96.71 L301.25,96.49 L302.27,96.27 L303.29,96.06 L304.31,95.85 L305.33,95.65 L306.36,95.45 L307.39,95.26 L308.42,95.07 L309.45,94.88 L310.49,94.70 L311.52,94.52 L312.56,94.35 L313.59,94.17 L314.63,94.00 L315.67,93.83 L316.70,93.66 L317.74,93.50 L318.78,93.33 L319.81,93.16 L320.85,93.00 L321.88,92.83 L322.92,92.66 L323.95,92.49 L324.98,92.32 L326.00,92.15 L327.03,91.98 L328.05,91.80 L329.07,91.62 L330.09,91.44 L331.10,91.26 L332.11,91.07 L333.12,90.87 L334.12,90.68 L335.13,90.48 L336.13,90.27 L337.12,90.06 L338.12,89.85 L339.11,89.64 L340.10,89.42 L341.08,89.20 L342.07,88.98 L343.05,88.75 L344.03,88.52 L345.01,88.29 L345.99,88.05 L346.96,87.81 L347.94,87.57 L348.91,87.32 L349.88,87.08 L350.85,86.82 L351.82,86.57 L352.79,86.31 L353.76,86.06 L354.73,85.79 L355.70,85.53 L356.66,85.26 L357.63,84.99 L358.59,84.72 L359.56,84.45 L360.52,84.17 L361.49,83.89 L362.45,83.61 L363.42,83.32 L364.39,83.04 L365.35,82.75 L366.32,82.46 L367.29,82.17 L368.26,81.87 L369.22,81.57 L370.19,81.28 L371.17,80.98 L372.14,80.67 L373.11,80.37 L374.09,80.06 L375.06,79.76 L376.04,79.45 L377.02,79.15 L378.00,78.84 L378.98,78.54 L379.97,78.24 L380.95,77.94 L381.94,77.64 L382.93,77.35 L383.92,77.06 L384.91,76.78 L385.90,76.49 L386.89,76.22 L387.89,75.95 L388.89,75.68 L389.88,75.43 L390.88,75.17 L391.89,74.93 L392.89,74.69 L393.90,74.47 L394.90,74.25 L395.91,74.04 L396.93,73.84 L397.94,73.64 L398.95,73.46 L399.97,73.30 L400.99,73.14 L402.01,72.99 L403.03,72.85 L404.05,72.73 L405.08,72.62 L406.10,72.52 L407.13,72.43 L408.15,72.35 L409.18,72.28 L410.21,72.23 L411.23,72.18 L412.26,72.15 L413.29,72.13 L414.31,72.13 L415.34,72.13 L416.36,72.15 L417.39,72.18 L418.41,72.23 L419.43,72.28 L420.45,72.35 L421.47,72.44 L422.48,72.53 L423.50,72.64 L424.51,72.76 L425.52,72.89 L426.53,73.04 L427.53,73.20 L428.53,73.38 L429.53,73.57 L430.53,73.77 L431.52,73.98 L432.51,74.21 L433.49,74.46 L434.48,74.71 L435.45,74.99 L436.43,75.27 L437.39,75.57 L438.36,75.89 L439.32,76.22 L440.27,76.56 L441.22,76.92 L442.17,77.29 L443.11,77.68 L444.04,78.08 L444.97,78.50 L445.89,78.94 L446.81,79.38 L447.72,79.85 L448.62,80.33 L449.52,80.82 L450.41,81.32 L451.30,81.84 L452.18,82.37 L453.05,82.91 L453.92,83.46 L454.78,84.03 L455.64,84.60 L456.49,85.18 L457.34,85.77 L458.18,86.37 L459.02,86.97 L459.85,87.58 L460.67,88.20 L461.49,88.83 L462.30,89.46 L463.11,90.09 L463.91,90.73 L464.71,91.37 L465.51,92.02 L466.29,92.67 L467.08,93.32 L467.86,93.97 L468.63,94.62 L469.40,95.28 L470.17,95.95 L470.93,96.61 L471.68,97.28 L472.44,97.96 L473.19,98.64 L473.93,99.32 L474.68,100.01 L475.42,100.70 L476.15,101.39 L476.89,102.10 L477.62,102.80 L478.35,103.51 L479.07,104.23 L479.79,104.95 L480.51,105.67 L481.23,106.39 L481.94,107.13 L482.65,107.86 L483.36,108.60 L484.06,109.34 L484.76,110.08 L485.46,110.83 L486.16,111.58 L486.86,112.34 L487.55,113.10 L488.24,113.86 L488.92,114.62 L489.61,115.39 L490.29,116.16 L490.97,116.93 L491.65,117.70 L492.32,118.48 L493.00,119.26 L493.67,120.04 L494.34,120.82 L495.00,121.60 L495.67,122.39 L496.33,123.18 L496.99,123.97 L497.65,124.76 L498.30,125.55 L498.96,126.35 L499.61,127.14 L500.26,127.94 L500.91,128.74 L501.56,129.54 L502.20,130.34 L502.85,131.14 L503.49,131.94 L504.13,132.74 L504.77,133.55 L505.41,134.35 L506.04,135.16 L506.67,135.96 L507.31,136.77 L507.94,137.58 L508.57,138.39 L509.19,139.20 L509.82,140.01 L510.44,140.83 L511.07,141.64 L511.69,142.45 L512.31,143.27 L512.92,144.09 L513.54,144.90 L514.16,145.72 L514.77,146.54 L515.38,147.36 L515.99,148.18 L516.60,149.00 L517.21,149.83 L517.82,150.65 L518.42,151.48 L519.02,152.30 L519.63,153.13 L520.23,153.95 L520.83,154.78 L521.43,155.61 L522.02,156.44 L522.62,157.27 L523.22,158.10 L523.81,158.93 L524.40,159.76 L524.99,160.60 L525.58,161.43 L526.17,162.26 L526.76,163.10 L527.35,163.93 L527.93,164.77 L528.52,165.61 L529.10,166.45 L529.68,167.28 L530.26,168.12 L530.84,168.96 L531.42,169.80 L532.00,170.64 L532.58,171.49 L533.15,172.33 L533.73,173.17 L534.30,174.01 L534.88,174.86 L535.45,175.70 L536.02,176.55 L536.59,177.39 L537.16,178.24 L537.73,179.09 L538.30,179.93 L538.87,180.78 L539.43,181.63 L540.00,182.48 L540.56,183.33 L541.13,184.18 L541.69,185.03 L542.25,185.88 L542.81,186.73 L543.38,187.58 L543.94,188.44 L544.50,189.29 L545.05,190.14 L545.61,190.99 L546.17,191.85 L546.73,192.70 L547.28,193.56 L547.84,194.41 L548.40,195.27 L548.95,196.12 L549.51,196.98 L550.06,197.84 L550.61,198.69 L551.17,199.55 L551.72,200.41 L552.27,201.26 L552.82,202.12 L553.37,202.98 L553.92,203.84 L554.47,204.70 L555.02,205.56 L555.57,206.42 L556.12,207.28 L556.67,208.14 L557.22,209.00 L557.77,209.86 L558.32,210.72 L558.87,211.58 L559.41,212.44 L559.96,213.30 L560.51,214.16 L561.05,215.02 L561.60,215.89 L562.15,216.75 L562.69,217.61 L563.24,218.47 L563.78,219.33 L564.33,220.20 L564.88,221.06 L565.42,221.92 L565.97,222.78 L566.51,223.65 L567.06,224.51 L567.60,225.37 L568.15,226.23 L568.69,227.10 L569.24,227.96 L569.79,228.82 L570.33,229.69 L570.88,230.55 L571.42,231.41 L571.97,232.27 L572.51,233.14 L573.06,234.00 L573.61,234.86 L574.15,235.73 L574.70,236.59 L575.25,237.45 L575.79,238.31 L576.34,239.18 L576.89,240.04 L577.43,240.90 L577.98,241.76 L578.53,242.63 L579.08,243.49 L579.63,244.35 L580.18,245.21 L580.72,246.07 L581.27,246.93 L581.82,247.80 L582.37,248.66 L582.93,249.52 L583.48,250.38 L584.03,251.24 L584.58,252.10 L585.13,252.96 L585.69,253.82 L586.24,254.68 L586.79,255.54 L587.35,256.40 L587.90,257.26 L588.46,258.12 L589.02,258.97 L589.57,259.83 L590.13,260.69 L590.69,261.55 L591.25,262.40 L591.81,263.26 L592.37,264.12 L592.93,264.97 L593.49,265.83 L594.05,266.68 L594.61,267.54 L595.18,268.39 L595.74,269.25 L596.30,270.10 L596.87,270.95 L597.44,271.81 L598.00,272.66 L598.57,273.51 L599.14,274.36 L599.71,275.22 L600.28,276.07 L600.85,276.92 L601.43,277.77 L602.00,278.62 L602.57,279.46 L603.15,280.31 L603.73,281.16 L604.30,282.01 L604.88,282.85 L605.46,283.70 L606.04,284.55 L606.62,285.39 L607.20,286.24 L607.78,287.08 L608.37,287.93 L608.95,288.77 L609.53,289.61 L610.12,290.45 L610.71,291.30 L611.29,292.14 L611.88,292.98 L612.47,293.82 L613.06,294.66 L613.65,295.50 L614.24,296.34 L614.84,297.17 L615.43,298.01 L616.03,298.85 L616.62,299.68 L617.22,300.52 L617.81,301.35 L618.41,302.19 L619.01,303.02 L619.61,303.86 L620.21,304.69 L620.81,305.52 L621.42,306.35 L622.02,307.18 L622.63,308.01 L623.23,308.84 L623.84,309.67 L624.44,310.50 L625.05,311.33 L625.66,312.15 L626.27,312.98 L626.88,313.81 L627.49,314.63 L628.11,315.46 L628.72,316.28 L629.34,317.10 L629.95,317.93 L630.57,318.75 L631.18,319.57 L631.80,320.39 L632.42,321.21 L633.04,322.03 L633.66,322.85 L634.29,323.66 L634.91,324.48 L635.53,325.30 L636.16,326.11 L636.78,326.93 L637.41,327.74 L638.04,328.56 L638.66,329.37 L639.29,330.18 L639.92,330.99 L640.56,331.80 L641.19,332.61 L641.82,333.42 L642.45,334.23 L643.09,335.04 L643.73,335.84 L644.36,336.65 L645.00,337.45 L645.64,338.26 L646.28,339.06 L646.92,339.87 L647.56,340.67 L648.20,341.47 L648.85,342.27 L649.49,343.07 L650.14,343.87 L650.78,344.67 L651.43,345.46 L652.08,346.26 L652.73,347.06 L653.38,347.85 L654.03,348.64 L654.68,349.44 L655.33,350.23 L655.99,351.02 L656.64,351.81 L657.30,352.60 L657.95,353.39 L658.61,354.18 L659.27,354.97 L659.93,355.75 L660.59,356.54 L661.25,357.32 L661.92,358.11 L662.58,358.89 L663.24,359.67 L663.91,360.45 L664.58,361.23 L665.24,362.01 L665.91,362.79 L666.58,363.57 L667.25,364.35 L667.92,365.12 L668.60,365.90 L669.27,366.67 L669.94,367.44 L670.62,368.22 L671.29,368.99 L671.97,369.76 L672.65,370.53 L673.33,371.29 L674.01,372.06 L674.69,372.83 L675.37,373.59 L676.06,374.36 L676.74,375.12 L677.42,375.88 L678.11,376.65 L678.80,377.41 L679.49,378.17 L680.17,378.93 L680.86,379.68 L681.56,380.44 L682.25,381.20 L682.94,381.95 L683.64,382.70 L684.33,383.46 L685.03,384.21 L685.72,384.96 L686.42,385.71 L687.12,386.46 L687.82,387.20 L688.52,387.95 L689.22,388.70 L689.93,389.44 L690.63,390.18 L691.34,390.93 L692.04,391.67 L692.75,392.41 L693.46,393.15 L694.17,393.88 L694.88,394.62 L695.59,395.36 L696.30,396.09 L697.01,396.83 L697.73,397.56 L698.44,398.29 L699.16,399.02 L699.88,399.75 L700.59,400.48 L701.31,401.21 L702.03,401.93 L702.75,402.66 L703.48,403.38 L704.20,404.10 L704.93,404.82 L705.65,405.54 L706.38,406.26 L707.10,406.98 L707.83,407.70 L708.56,408.41 L709.29,409.13 L710.02,409.84 L710.76,410.55 L711.49,411.27 L712.23,411.98 L712.96,412.68 L713.70,413.39 L714.44,414.10 L715.18,414.80 L715.92,415.51 L716.66,416.21 L717.40,416.91 L718.14,417.61 L718.89,418.31 L719.63,419.01 L720.38,419.71 L721.12,420.40 L721.87,421.10 L722.62,421.79 L723.37,422.48 L724.12,423.17 L724.88,423.86 L725.63,424.55 L726.38,425.24 L727.14,425.92 L727.90,426.61 L728.65,427.29 L729.41,427.97 L730.17,428.65 L730.93,429.33 L731.70,430.01 L732.46,430.69 L733.22,431.36 L733.99,432.03 L734.76,432.71 L735.52,433.38 L736.29,434.05 L737.06,434.72 L737.83,435.39 L738.60,436.05 L739.38,436.72 L740.15,437.38 L740.92,438.04 L741.70,438.70 L742.48,439.36 L743.26,440.02 L744.03,440.68 L744.81,441.33 L745.60,441.99 L746.38,442.64 L747.16,443.29 L747.95,443.94 L748.73,444.59 L749.52,445.24 L750.31,445.88 L751.10,446.53 L751.89,447.17 L752.68,447.81 L753.47,448.45 L754.26,449.09 L755.06,449.73 L755.85,450.37 L756.65,451.00 L757.45,451.64 L758.25,452.27 L759.05,452.90 L759.85,453.53 L760.65,454.15 L761.45,454.78 L762.26,455.41 L763.06,456.03 L763.87,456.65 L764.67,457.27 L765.48,457.89 L766.29,458.51 L767.10,459.12 L767.92,459.74 L768.73,460.35 L769.54,460.96 L770.36,461.57 L771.17,462.18 L771.99,462.79 L772.81,463.39 L773.63,464.00 L774.45,464.60 L775.27,465.20 L776.10,465.80 L776.92,466.40 L777.75,467.00 L778.57,467.59 L779.40,468.18 L780.23,468.78 L781.06,469.37 L781.89,469.96 L782.72,470.54 L783.55,471.13 L784.39,471.71 L785.22,472.30 L786.06,472.88 L786.90,473.46 L787.74,474.03 L788.58,474.61 L789.42,475.19 L790.26,475.76 L791.10,476.33 L791.95,476.90 L792.79,477.47 L793.64,478.04 L794.49,478.60 L795.34,479.16 L796.19,479.73 L797.04,480.29 L797.89,480.85 L798.75,481.40 L799.60,481.96 L800.46,482.51 L801.31,483.06 L802.17,483.61 L803.03,484.16 L803.89,484.71 L804.75,485.26 L805.62,485.80 L806.48,486.34 L807.35,486.88 L808.21,487.42 L809.08,487.96 L809.95,488.49 L810.82,489.03 L811.69,489.56 L812.56,490.09 L813.43,490.62 L814.31,491.15 L815.18,491.67 L816.06,492.20 L816.94,492.72 L817.82,493.24 L818.70,493.76 L819.58,494.27 L820.46,494.79 L821.34,495.30 L822.23,495.82 L823.11,496.33 L824.00,496.83 L824.89,497.34 L825.78,497.85 L826.67,498.35 L827.56,498.85 L828.45,499.35 L829.35,499.85 L830.24,500.35 L831.14,500.84 L832.03,501.34 L832.93,501.83 L833.83,502.32 L834.73,502.81 L835.63,503.29 L836.53,503.78 L837.43,504.26 L838.34,504.74 L839.24,505.23 L840.15,505.70 L841.05,506.18 L841.96,506.66 L842.87,507.13 L843.78,507.60 L844.69,508.07 L845.60,508.54 L846.51,509.01 L847.43,509.48 L848.34,509.94 L849.25,510.41 L850.17,510.87 L851.09,511.33 L852.01,511.78 L852.92,512.24 L853.84,512.70 L854.76,513.15 L855.69,513.60 L856.61,514.05 L857.53,514.50 L858.45,514.95 L859.38,515.40 L860.30,515.84 L861.23,516.28 L862.16,516.72 L863.09,517.16 L864.02,517.60 L864.94,518.04 L865.88,518.47 L866.81,518.91 L867.74,519.34 L868.67,519.77 L869.60,520.20 L870.54,520.63 L871.47,521.05 L872.41,521.48 L873.35,521.90 L874.28,522.32 L875.22,522.74 L876.16,523.16 L877.10,523.58 L878.04,524.00 L878.98,524.41 L879.92,524.82 L880.87,525.24 L881.81,525.65 L882.75,526.06 L883.70,526.46 L884.64,526.87 L885.59,527.27 L886.53,527.68 L887.48,528.08 L888.43,528.48 L889.38,528.88 L890.32,529.27 L891.27,529.67 L892.22,530.06 L893.17,530.46 L894.13,530.85 L895.08,531.24 L896.03,531.63 L896.98,532.02 L897.94,532.40 L898.89,532.79 L899.84,533.17 L900.80,533.55 L901.76,533.93 L902.71,534.31 L903.67,534.69 L904.63,535.07 L905.58,535.44 L906.54,535.82 L907.50,536.19 L908.46,536.56 L909.42,536.93 L910.38,537.30 L911.34,537.67 L912.30,538.03 L913.26,538.40 L914.23,538.76 L915.19,539.12 L916.15,539.48 L917.12,539.84 L918.08,540.20 L919.04,540.56 L920.01,540.91 L920.97,541.27 L921.94,541.62 L922.91,541.97 L923.87,542.32 L924.84,542.67 L925.81,543.02 L926.77,543.36 L927.74,543.71 L928.71,544.05 L929.68,544.39 L930.65,544.74 L931.62,545.08 L932.59,545.41 L933.56,545.75 L934.53,546.09 L935.50,546.42 L936.47,546.76 L937.44,547.09 L938.41,547.42 L939.38,547.75 L940.35,548.08 L941.33,548.41 L942.30,548.74 L943.27,549.06 L944.24,549.38 L945.22,549.71 L946.19,550.03 L947.16,550.35 L948.14,550.67 L949.11,550.99 L950.09,551.30 L951.06,551.62 L952.04,551.93 L953.01,552.25 L953.99,552.56 L954.96,552.87 L955.94,553.18 L956.91,553.49 L957.89,553.80 L958.86,554.10 L959.84,554.41 L960.82,554.71 L961.79,555.02 L962.77,555.32 L963.75,555.62 L964.72,555.92 L965.70,556.22 L966.68,556.51 L967.65,556.81 L968.63,557.11 L969.61,557.40 L970.58,557.69 L971.56,557.98 L972.54,558.28 L973.52,558.57 L974.49,558.85 L975.47,559.14 L976.45,559.43 L977.43,559.71 L978.40,560.00 L979.38,560.28 L980.36,560.56 L981.34,560.84 L982.31,561.12 L983.29,561.40 L984.27,561.68 L985.24,561.96 L986.22,562.23 L987.20,562.51 L988.18,562.78 L989.15,563.05 L990.13,563.32 L991.11,563.60 L992.09,563.86 L993.06,564.13 L994.04,564.40 L995.02,564.67 L995.99,564.93 L996.97,565.20 L997.94,565.46 L998.92,565.72 L999.90,565.98 L1000.87,566.24 L1001.85,566.50 L1002.82,566.76 L1003.80,567.02 L1004.78,567.28 L1005.75,567.53 L1006.73,567.79 L1007.70,568.04 L1008.67,568.29 L1009.65,568.54 L1010.62,568.80 L1011.60,569.04 L1012.57,569.29 L1013.54,569.54 L1014.52,569.79 L1015.49,570.03 L1016.46,570.28 L1017.44,570.52 L1018.41,570.77"/>
</g>
<path fill="none" stroke="#000" stroke-width="3.4" d="M151.50,652.3 V628.00 M151.50,41.9 V66.20 M230.35,652.3 V640.50 M230.35,41.9 V53.70 M309.19,652.3 V628.00 M309.19,41.9 V66.20 M388.04,652.3 V640.50 M388.04,41.9 V53.70 M466.88,652.3 V628.00 M466.88,41.9 V66.20 M545.73,652.3 V640.50 M545.73,41.9 V53.70 M624.57,652.3 V628.00 M624.57,41.9 V66.20 M703.42,652.3 V640.50 M703.42,41.9 V53.70 M782.26,652.3 V628.00 M782.26,41.9 V66.20 M861.11,652.3 V640.50 M861.11,41.9 V53.70 M939.95,652.3 V628.00 M939.95,41.9 V66.20 M1018.80,652.3 V640.50 M1018.80,41.9 V53.70 M151.5,652.30 H175.80 M1018.8,652.30 H994.50 M151.5,608.70 H163.30 M1018.8,608.70 H1007.00 M151.5,565.10 H175.80 M1018.8,565.10 H994.50 M151.5,521.50 H163.30 M1018.8,521.50 H1007.00 M151.5,477.90 H175.80 M1018.8,477.90 H994.50 M151.5,434.30 H163.30 M1018.8,434.30 H1007.00 M151.5,390.70 H175.80 M1018.8,390.70 H994.50 M151.5,347.10 H163.30 M1018.8,347.10 H1007.00 M151.5,303.50 H175.80 M1018.8,303.50 H994.50 M151.5,259.90 H163.30 M1018.8,259.90 H1007.00 M151.5,216.30 H175.80 M1018.8,216.30 H994.50 M151.5,172.70 H163.30 M1018.8,172.70 H1007.00 M151.5,129.10 H175.80 M1018.8,129.10 H994.50 M151.5,85.50 H163.30 M1018.8,85.50 H1007.00 M151.5,41.90 H175.80 M1018.8,41.90 H994.50"/>
<rect x="151.5" y="41.9" width="867.30" height="610.40" fill="none" stroke="#000" stroke-width="3.4" stroke-linejoin="miter"/>
<g font-family="Liberation Sans" fill="#000" text-rendering="geometricPrecision">
<text transform="translate(151.50,689.80) scale(1,1.02)" font-size="35" text-anchor="middle" >0</text>
<text transform="translate(309.19,689.80) scale(1,1.02)" font-size="35" text-anchor="middle" >2</text>
<text transform="translate(466.88,689.80) scale(1,1.02)" font-size="35" text-anchor="middle" >4</text>
<text transform="translate(624.57,689.80) scale(1,1.02)" font-size="35" text-anchor="middle" >6</text>
<text transform="translate(782.26,689.80) scale(1,1.02)" font-size="35" text-anchor="middle" >8</text>
<text transform="translate(939.95,689.80) scale(1,1.02)" font-size="35" text-anchor="middle" >10</text>
<text transform="translate(140.60,664.20) scale(1,1.02)" font-size="35" text-anchor="end" >0</text>
<text transform="translate(140.60,577.00) scale(1,1.02)" font-size="35" text-anchor="end" >0.5</text>
<text transform="translate(140.60,489.80) scale(1,1.02)" font-size="35" text-anchor="end" >1</text>
<text transform="translate(140.60,402.60) scale(1,1.02)" font-size="35" text-anchor="end" >1.5</text>
<text transform="translate(140.60,315.40) scale(1,1.02)" font-size="35" text-anchor="end" >2</text>
<text transform="translate(140.60,228.20) scale(1,1.02)" font-size="35" text-anchor="end" >2.5</text>
<text transform="translate(140.60,141.00) scale(1,1.02)" font-size="35" text-anchor="end" >3</text>
<text transform="translate(140.60,53.80) scale(1,1.02)" font-size="35" text-anchor="end" >3.5</text>
</g>
<g font-family="Liberation Sans" fill="#000" text-rendering="geometricPrecision">
<text transform="translate(539.20,737.40) scale(1,1.02)" font-size="48" text-anchor="start" ><tspan font-style="italic">T</tspan></text>
<text transform="translate(578.70,737.40) scale(1,1.02)" font-size="48" text-anchor="start" >[K]</text>
<text transform="translate(70.3,501.7) rotate(-90) scale(1,1.02)" font-size="48"><tspan font-style="italic">c</tspan>/<tspan font-style="italic">T</tspan><tspan dx="-4"> </tspan>[J/(mol K<tspan font-size="35" dy="-28">2</tspan><tspan dy="28">)]</tspan></text>
</g>
<rect x="249.3" y="469.6" width="430.8" height="139.3" fill="#fff" stroke="#000" stroke-width="3.3"/>
<rect x="281.40" y="490.60" width="14.2" height="14.2" fill="#ff0000"/>
<path d="M264.1,542.1 H313.2" stroke="#008b00" stroke-width="5.6"/>
<path d="M264.1,583.8 H313.2" stroke="#0000ff" stroke-width="5.6"/>
<g font-family="Liberation Sans" fill="#000" text-rendering="geometricPrecision">
<text transform="translate(337.50,506.10) scale(1,1.01)" font-size="34.3" text-anchor="start" >experiment, <tspan font-style="italic" dx="1.6">B</tspan><tspan dx="-1.6"> = 0.8 T</tspan></text>
<text transform="translate(337.50,551.00) scale(1,1.01)" font-size="34.3" text-anchor="start" >no interchain coupling</text>
<text transform="translate(337.50,595.90) scale(1,1.01)" font-size="34.3" text-anchor="start" >interchain mean-field</text>
</g>
</svg>
</body></html>
